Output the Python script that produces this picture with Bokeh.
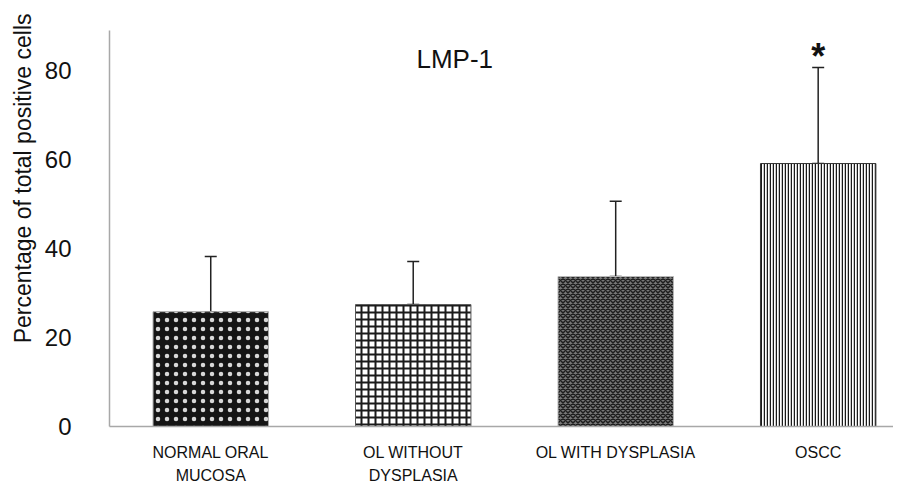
from bokeh.plotting import figure
from bokeh.models import ColumnDataSource, Range1d, FixedTicker, Whisker, TeeHead, Label, Title, LinearAxis
from bokeh.core.properties import value
from bokeh.embed import file_html
from bokeh.resources import INLINE

categories = ["NORMAL ORAL\nMUCOSA", "OL WITHOUT\nDYSPLASIA", "OL WITH DYSPLASIA", "OSCC"]
means = [25.8, 27.4, 33.7, 59.1]
errors = [12.4, 9.7, 16.9, 21.6]
y_ticks = [0, 20, 40, 60, 80]
title_text = "LMP-1"
y_title = "Percentage of total positive cells"
signif = ["", "", "", "*"]

xs = list(range(len(categories)))
uppers = [m + e for m, e in zip(means, errors)]
line1 = [c.split("\n")[0] for c in categories]
line2 = [c.split("\n")[1] if "\n" in c else "" for c in categories]

fills = ["#151515", "#ffffff", "#777777", "#ffffff"]
patterns = ["dot", "cross", "diagonal_cross", "vertical_line"]
hcolors = ["#d8d8d8", "#1a1a1a", "#1e1e1e", "#1a1a1a"]
hscales = [9, 7, 5, 3]
hweights = [1.0, 2.0, 1.5, 1.5]
lcolors = ["#aaaaaa", "#555555", "#bbbbbb", "#333333"]

FONT = "Liberation Sans"

p = figure(width=893, height=486, output_backend="svg", toolbar_location=None,
           x_range=Range1d(-0.5, 3.372), y_range=Range1d(0, 89),
           min_border_left=109, min_border_right=0, min_border_top=30, min_border_bottom=54)
p.outline_line_color = None
p.xgrid.grid_line_color = None
p.ygrid.grid_line_color = None

src = ColumnDataSource(dict(x=xs, top=means, hi=uppers))
for i in xs:
    p.vbar(x=[xs[i]], top=[means[i]], width=0.57, fill_color=fills[i],
           hatch_pattern=patterns[i], hatch_color=hcolors[i], hatch_scale=hscales[i],
           hatch_weight=hweights[i], line_color=lcolors[i], line_width=1)

w = Whisker(source=src, base="x", upper="hi", lower="top",
            line_color="#222222", line_width=1.5,
            upper_head=TeeHead(size=12, line_color="#222222", line_width=1.5),
            lower_head=TeeHead(size=12, line_color="#222222", line_width=1.5))
p.add_layout(w)

sx = [xs[i] for i in xs if signif[i]]
sy = [uppers[i] for i in xs if signif[i]]
st = [signif[i] for i in xs if signif[i]]
p.text(x=sx, y=sy, text=st, text_font=value(FONT), text_font_size="36px",
       text_font_style="bold", text_align="center", text_baseline="alphabetic",
       y_offset=-11, text_color="#111111")

p.add_layout(Label(x=1.205, y=82.7, text=title_text, text_font=FONT, text_font_size="26px",
                   text_align="center", text_baseline="middle", text_color="#111111"))

def style_x(ax, labels, standoff, lh):
    ax.ticker = FixedTicker(ticks=xs)
    ax.major_label_overrides = {i: t for i, t in zip(xs, labels)}
    ax.major_tick_line_color = None
    ax.minor_tick_line_color = None
    ax.major_tick_out = 0
    ax.major_tick_in = 0
    ax.major_label_standoff = standoff
    ax.major_label_text_font = FONT
    ax.major_label_text_font_size = "16px"
    ax.major_label_text_line_height = lh
    ax.major_label_text_color = "#111111"

xa = p.xaxis[0]
style_x(xa, line1, 17, 0.9)
xa.axis_line_color = "#a8a8a8"
xa.axis_line_width = 1.5

xa2 = LinearAxis()
style_x(xa2, line2, 3, 0.8)
xa2.axis_line_color = None
p.add_layout(xa2, "below")

p.yaxis.ticker = FixedTicker(ticks=y_ticks)
p.yaxis.major_tick_line_color = None
p.yaxis.minor_tick_line_color = None
p.yaxis.major_tick_out = 0
p.yaxis.major_label_standoff = 38
p.yaxis.major_label_text_font = FONT
p.yaxis.major_label_text_font_size = "24px"
p.yaxis.major_label_text_color = "#111111"
p.yaxis.axis_line_color = "#a8a8a8"
p.yaxis.axis_line_width = 1.5

p.add_layout(Title(text=y_title, align="right", offset=-17, text_font=FONT,
                   text_font_size="23px", text_font_style="normal",
                   text_color="#111111", standoff=11), "left")

open("out.html", "w").write(file_html(p, INLINE))
